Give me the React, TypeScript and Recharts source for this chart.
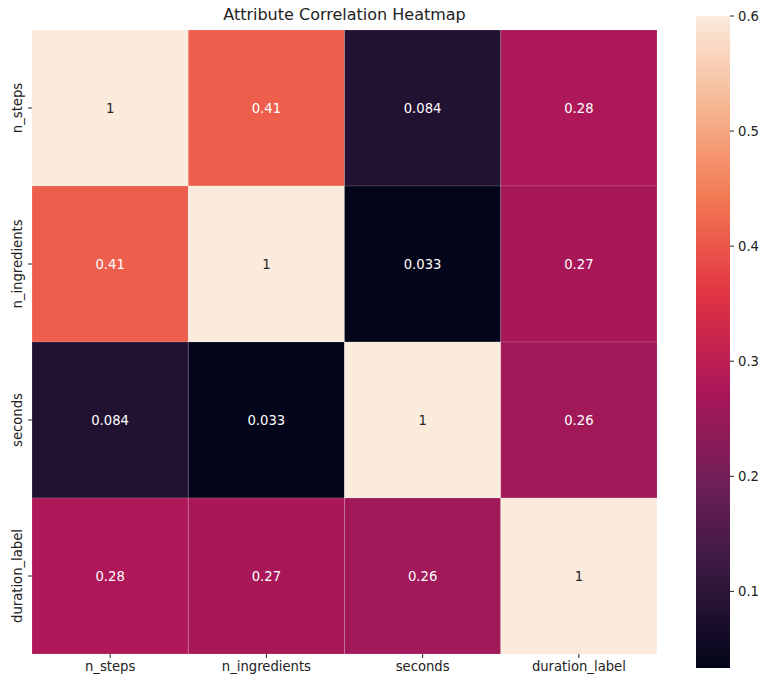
import React from 'react';
import { BarChart, Bar, XAxis, YAxis } from 'recharts';

const labels = ['n_steps', 'n_ingredients', 'seconds', 'duration_label'];
const row0 = [1, 0.41, 0.084, 0.28];
const row1 = [0.41, 1, 0.033, 0.27];
const row2 = [0.084, 0.033, 1, 0.26];
const row3 = [0.28, 0.27, 0.26, 1];
const matrix = [row0, row1, row2, row3];
const colorbarTicks = [0.1, 0.2, 0.3, 0.4, 0.5, 0.6];
const vmin = 0.0334;
const vmax = 0.6;
const title = 'Attribute Correlation Heatmap';

const FONT = '"DejaVu Sans", sans-serif';
const TXT = '#222222';
const FS = 13.2;

// seaborn "rocket" colormap key colours
const rocketStops = ['#03051a', '#35193e', '#701f57', '#ad1759', '#e13342', '#f37651', '#f6b48f', '#faebdd'];

const hexToRgb = (h: string) => [parseInt(h.slice(1, 3), 16), parseInt(h.slice(3, 5), 16), parseInt(h.slice(5, 7), 16)];

const rocket = (t: number) => {
  const tt = Math.max(0, Math.min(1, t));
  const n = rocketStops.length - 1;
  const pos = tt * n;
  const i = Math.min(n - 1, Math.floor(pos));
  const f = pos - i;
  const a = hexToRgb(rocketStops[i]);
  const b = hexToRgb(rocketStops[i + 1]);
  const c = a.map((v, k) => Math.round(v + (b[k] - v) * f));
  return { rgb: c, css: `rgb(${c[0]},${c[1]},${c[2]})` };
};

const colorFor = (v: number) => rocket((v - vmin) / (vmax - vmin));

const textColorFor = (v: number) => {
  const [r, g, b] = colorFor(v).rgb.map((x) => {
    const s = x / 255;
    return s <= 0.03928 ? s / 12.92 : Math.pow((s + 0.055) / 1.055, 2.4);
  });
  const lum = 0.2126 * r + 0.7152 * g + 0.0722 * b;
  return lum > 0.408 ? '#262626' : '#ffffff';
};

const heatData = labels.map((row, i) => {
  const o: any = { row };
  matrix[i].forEach((v, j) => {
    o[`v${j}`] = v;
  });
  return o;
});

const makeCellShape = (j: number) => (props: any) => {
  const { x, y, width, height, payload } = props;
  const v = payload[`v${j}`];
  return (
    <g>
      <rect x={x} y={y} width={width} height={height} fill={colorFor(v).css} stroke="rgba(255,255,255,0.18)" strokeWidth={0.8} />
      <text
        x={x + width / 2}
        y={y + height / 2}
        textAnchor="middle"
        dominantBaseline="central"
        fontSize={FS}
        fontFamily={FONT}
        fill={textColorFor(v)}
      >
        {String(v)}
      </text>
    </g>
  );
};

const YTick = (props: any) => {
  const { y, payload } = props;
  return (
    <text
      transform={`translate(17,${y}) rotate(-90)`}
      textAnchor="middle"
      dominantBaseline="central"
      fontSize={FS}
      fontFamily={FONT}
      fill={TXT}
    >
      {payload.value}
    </text>
  );
};

const cbData = [{ name: 'cb', range: [vmin, vmax] }];

const ColorbarShape = (props: any) => {
  const { x, y, width, height } = props;
  const steps = 40;
  const stops = [];
  for (let k = 0; k <= steps; k++) {
    const t = 1 - k / steps;
    stops.push(<stop key={k} offset={`${(k / steps) * 100}%`} stopColor={rocket(t).css} />);
  }
  return (
    <g>
      <defs>
        <linearGradient id="cbgrad" x1="0" y1="0" x2="0" y2="1">
          {stops}
        </linearGradient>
      </defs>
      <rect x={x} y={y} width={width} height={height} fill="url(#cbgrad)" />
    </g>
  );
};

export default function App() {
  return (
    <div style={{ position: 'absolute', left: 0, top: 0, width: 769, height: 687, background: '#fff', fontFamily: FONT }}>
      <div
        style={{
          position: 'absolute',
          left: 32,
          top: 5,
          width: 625,
          textAlign: 'center',
          fontSize: 16,
          lineHeight: '19px',
          color: TXT,
        }}
      >
        {title}
      </div>
      <div style={{ position: 'absolute', left: 0, top: 0 }}>
        <BarChart
          width={769}
          height={687}
          data={heatData}
          layout="vertical"
          margin={{ top: 30, right: 112, bottom: 0, left: 0 }}
          barCategoryGap={0}
          barGap={0}
        >
          <XAxis
            type="number"
            domain={[0, 4]}
            ticks={[0.5, 1.5, 2.5, 3.5]}
            tickFormatter={(t: number) => labels[Math.floor(t)]}
            height={33}
            axisLine={false}
            tickLine={{ stroke: TXT }}
            tickSize={4}
            tickMargin={4}
            tick={{ fontSize: FS, fontFamily: FONT, fill: TXT }}
            interval={0}
            allowDataOverflow
          />
          <YAxis
            type="category"
            dataKey="row"
            width={32}
            axisLine={false}
            tickLine={{ stroke: TXT }}
            tickSize={4}
            tick={<YTick />}
            interval={0}
          />
          {labels.map((_, j) => (
            <Bar
              key={j}
              dataKey={() => 1}
              stackId="s"
              shape={makeCellShape(j)}
              isAnimationActive={false}
            />
          ))}
        </BarChart>
      </div>
      <div style={{ position: 'absolute', left: 696, top: 0 }}>
        <BarChart
          width={73}
          height={687}
          data={cbData}
          margin={{ top: 16, right: 0, bottom: 19, left: 0 }}
          barCategoryGap={0}
        >
          <XAxis dataKey="name" hide />
          <YAxis
            type="number"
            orientation="right"
            domain={[vmin, vmax]}
            ticks={colorbarTicks}
            width={39}
            axisLine={false}
            tickLine={{ stroke: TXT }}
            tickSize={4}
            tickMargin={4}
            tick={{ fontSize: FS, fontFamily: FONT, fill: TXT }}
            tickFormatter={(v: number) => String(v)}
            allowDataOverflow
            interval={0}
          />
          <Bar dataKey="range" shape={<ColorbarShape />} isAnimationActive={false} />
        </BarChart>
      </div>
    </div>
  );
}
